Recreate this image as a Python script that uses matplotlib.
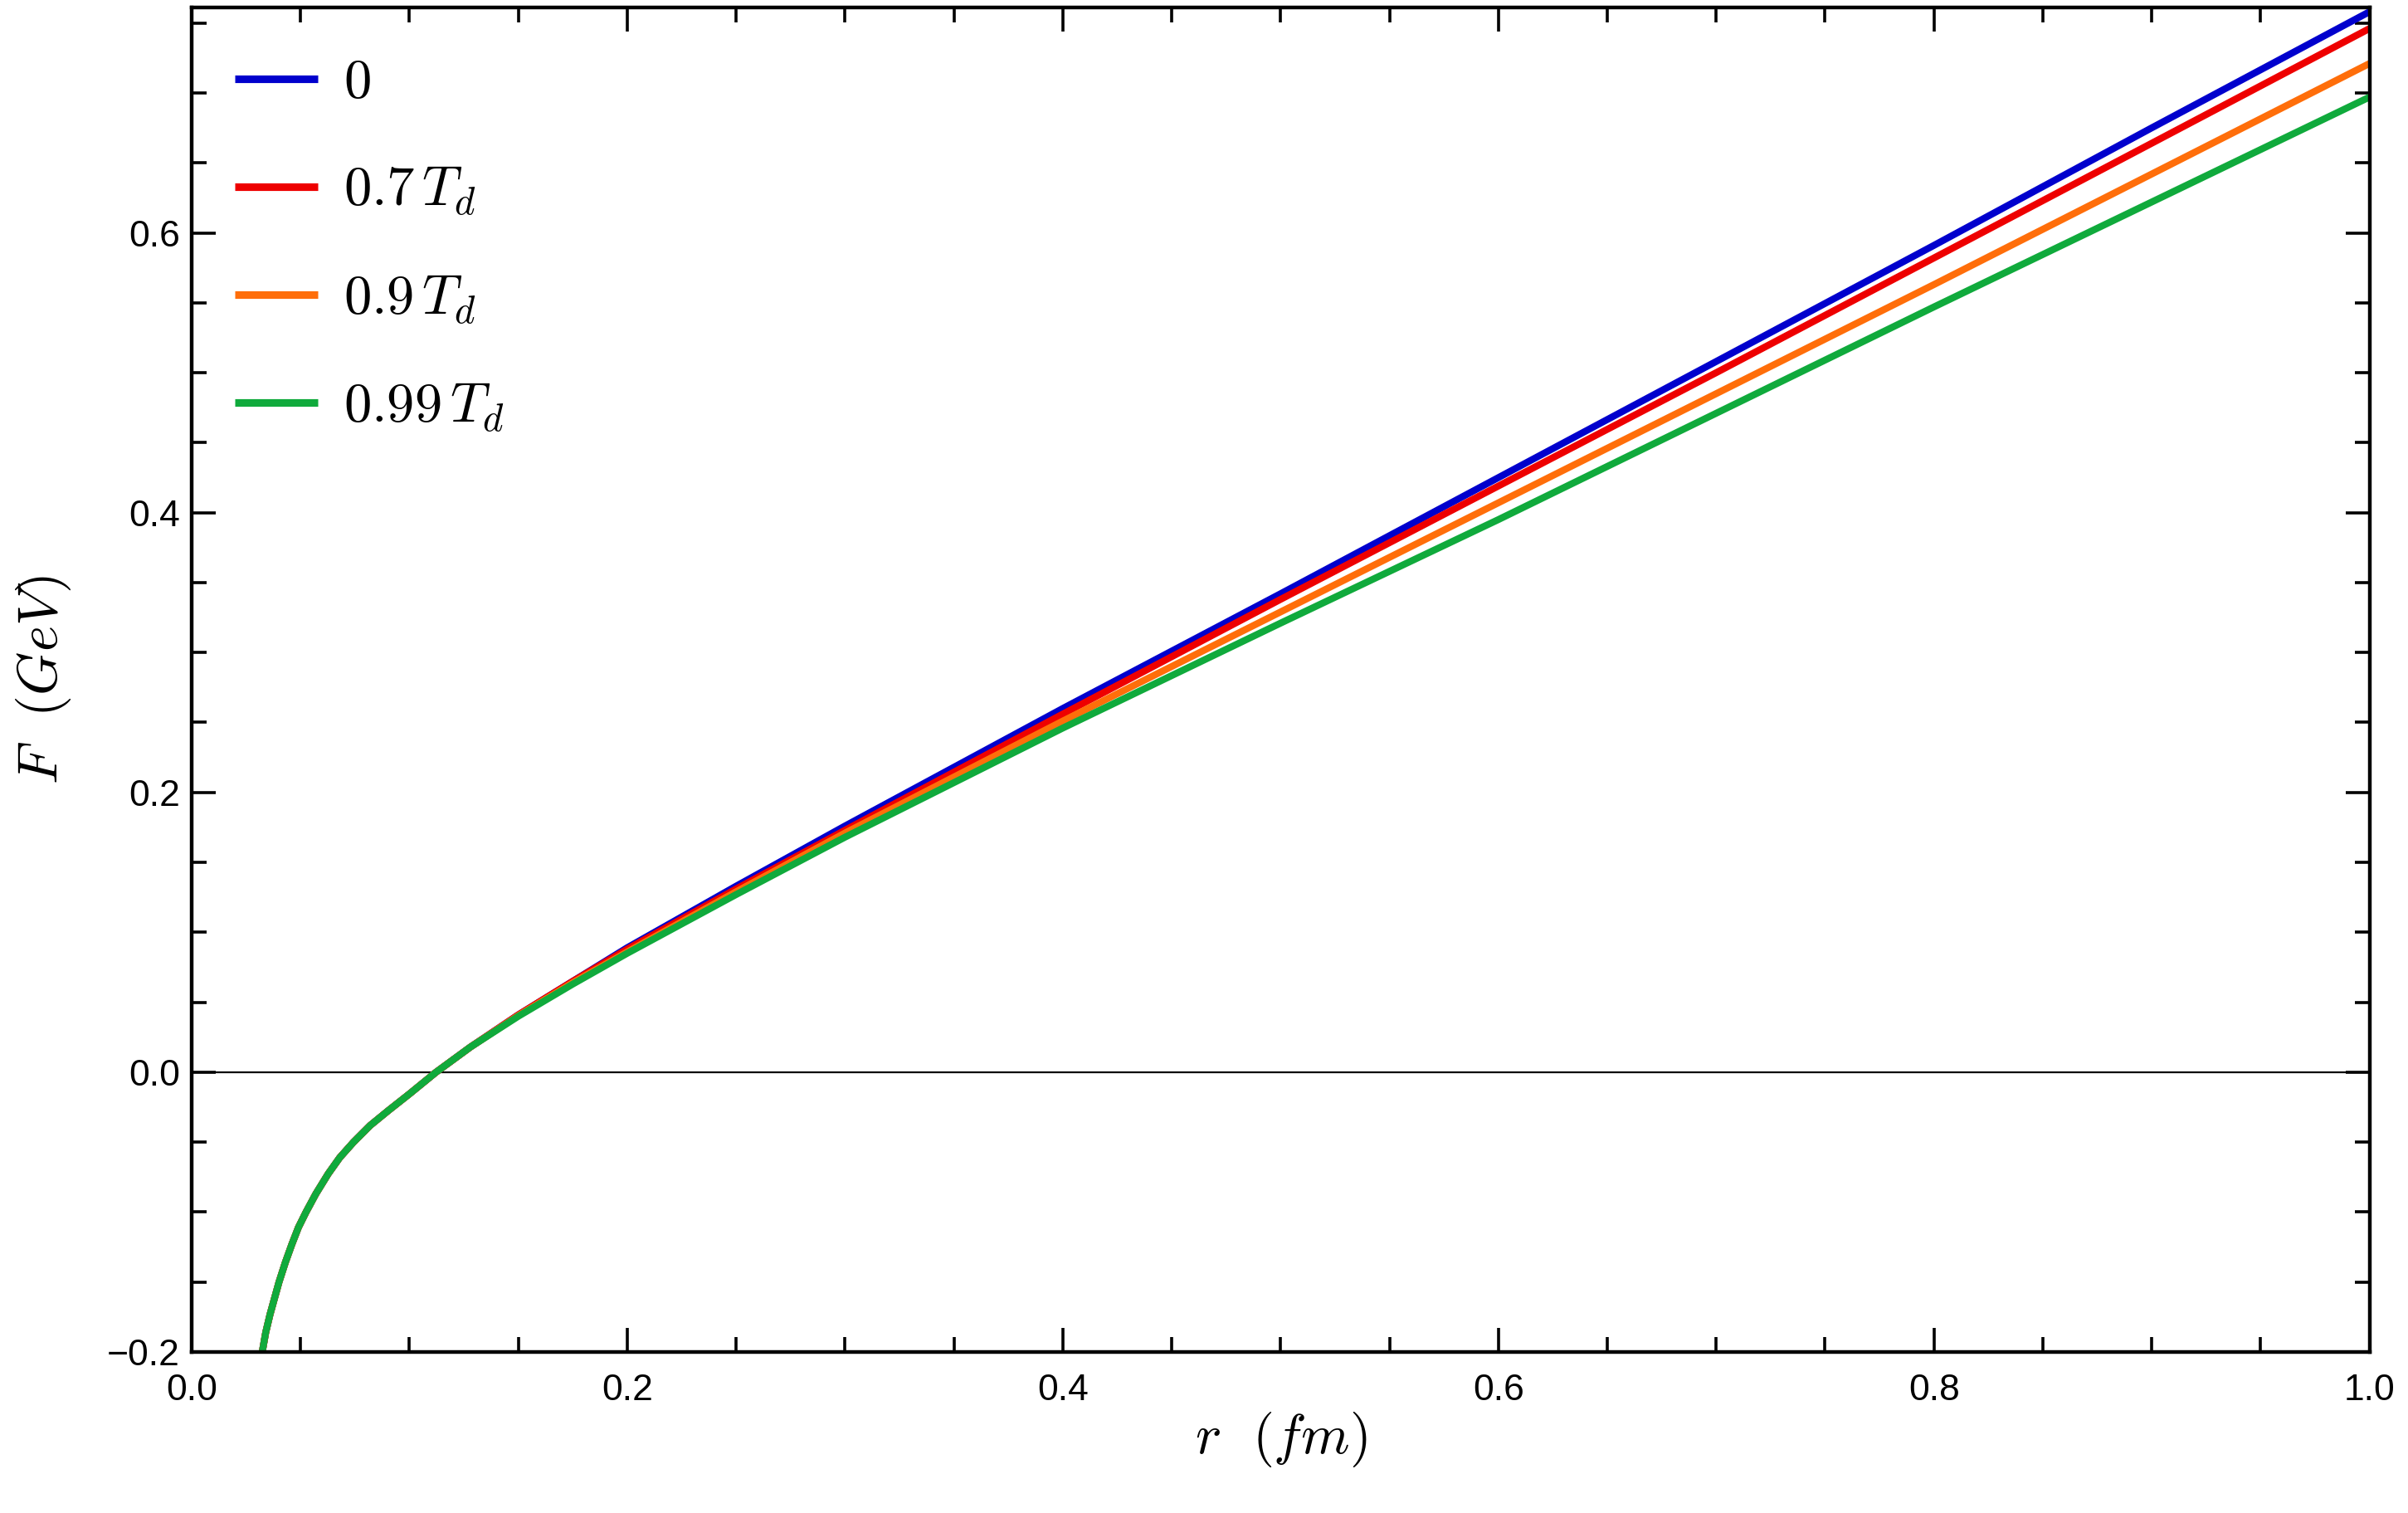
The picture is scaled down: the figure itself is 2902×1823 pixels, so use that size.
import matplotlib
matplotlib.use("Agg")
from matplotlib import pyplot as plt
from matplotlib.ticker import MultipleLocator, FuncFormatter

# Free energy F(r), for four temperatures
# short distance part: the four curves lie on top of each other
r_low = [0.0324, 0.034, 0.036, 0.0401, 0.043, 0.046, 0.049, 0.0525, 0.057, 0.0627,
	0.068, 0.0743, 0.082, 0.0904, 0.100, 0.1122, 0.128]
F_low = [-0.200, -0.186, -0.173, -0.150, -0.136, -0.123, -0.111, -0.100, -0.087, -0.0726,
	-0.061, -0.050, -0.038, -0.0273, -0.0155, 0.000, 0.018]

r_high = [0.150, 0.175, 0.20, 0.25, 0.30, 0.40, 0.50, 0.60, 0.70, 0.80, 0.90, 1.00]
F_T0 = [0.041, 0.065, 0.089, 0.133, 0.176, 0.260, 0.342, 0.425, 0.508, 0.591, 0.675, 0.758]
F_T07 = [0.041, 0.065, 0.088, 0.131, 0.173, 0.256, 0.338, 0.419, 0.500, 0.582, 0.664, 0.746]
F_T09 = [0.0405, 0.064, 0.086, 0.129, 0.171, 0.251, 0.329, 0.407, 0.485, 0.563, 0.642, 0.721]
F_T099 = [0.040, 0.063, 0.085, 0.127, 0.168, 0.246, 0.321, 0.395, 0.471, 0.547, 0.622, 0.697]

labels = [r"$0$", r"$0.7\,T_d$", r"$0.9\,T_d$", r"$0.99\,T_d$"]
colors = ["#0000cd", "#ee0000", "#ff6e0a", "#10aa3c"]

plt.rcParams["font.family"] = ["Liberation Sans", "DejaVu Sans"]
plt.rcParams["mathtext.fontset"] = "cm"

fig = plt.figure(figsize=(14.51, 9.115), dpi=200)
ax = fig.add_axes([0.0796, 0.1064, 0.9044, 0.8886])

ax.axhline(0.0, color="black", lw=0.8, zorder=1)

r = r_low + r_high
for F_hi, lab, col in zip([F_T0, F_T07, F_T09, F_T099], labels, colors):
	ax.plot(r, F_low + F_hi, color=col, lw=3.0, label=lab, solid_capstyle="butt")


def fmt(v, pos):
	s = "{:.1f}".format(v)
	if s == "-0.0":
		s = "0.0"
	return s.replace("-", "\u2212")


ax.set_xlim(0.0, 1.0)
ax.set_ylim(-0.2, 0.761)
ax.xaxis.set_major_locator(MultipleLocator(0.2))
ax.xaxis.set_minor_locator(MultipleLocator(0.05))
ax.yaxis.set_major_locator(MultipleLocator(0.2))
ax.yaxis.set_minor_locator(MultipleLocator(0.05))
ax.xaxis.set_major_formatter(FuncFormatter(fmt))
ax.yaxis.set_major_formatter(FuncFormatter(fmt))

ax.tick_params(which="both", direction="in", top=True, right=True, width=1.3)
ax.tick_params(which="major", length=10.5, labelsize=16)
ax.tick_params(which="minor", length=6.5)
ax.tick_params(axis="x", which="major", pad=9.5)
ax.tick_params(axis="y", which="major", pad=5)
for sp in ax.spines.values():
	sp.set_linewidth(1.6)

ax.set_xlabel(r"$r\ \ (fm)$", fontsize=24, labelpad=1)
ax.set_ylabel(r"$F\ \ (GeV)$", fontsize=24, labelpad=15)

leg = ax.legend(loc="upper left", bbox_to_anchor=(0.0, 0.9944), frameon=False,
	fontsize=24, handlelength=1.5, handletextpad=0.47, labelspacing=1.0,
	borderaxespad=0.38)
for h in leg.get_lines():
	h.set_linewidth(3.3)

fig.savefig("out.png", dpi=200)
